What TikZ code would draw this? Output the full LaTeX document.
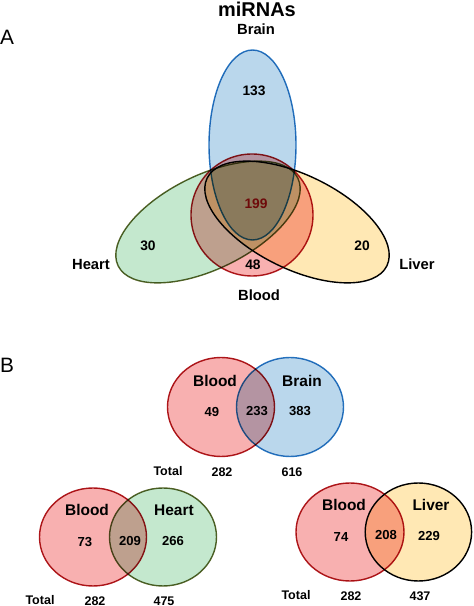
\documentclass[tikz,border=0pt]{standalone}
\usepackage{fontspec}
\setmainfont{Liberation Sans}

\definecolor{bloodfill}{RGB}{248,176,176}
\definecolor{bloodline}{RGB}{175,25,30}
\definecolor{brainfill}{RGB}{186,215,236}
\definecolor{brainline}{RGB}{40,120,195}
\definecolor{heartfill}{RGB}{196,232,206}
\definecolor{heartline}{RGB}{85,100,40}
\definecolor{liverfill}{RGB}{255,232,180}
\definecolor{liverline}{RGB}{0,0,0}
\definecolor{coretext}{RGB}{110,10,10}

\begin{document}
\begin{tikzpicture}[
		setline/.style={line width=1pt},
		countA/.style={font=\fontsize{9.8}{11}\selectfont\bfseries},
		nameA/.style={font=\fontsize{10.5}{12}\selectfont\bfseries},
		countB/.style={font=\fontsize{9.3}{11}\selectfont\bfseries},
		nameB/.style={font=\fontsize{11}{13}\selectfont\bfseries},
		totalB/.style={font=\fontsize{8.9}{11}\selectfont\bfseries},
		panel/.style={font=\fontsize{14.8}{17}\selectfont}
	]
		\useasboundingbox (0,0) rectangle (11.825,15.15);

		% A: four sets
		\node[font=\fontsize{14.2}{17}\selectfont\bfseries] (title) at (6.425,14.925) {miRNAs};
		\node[panel] (panelA) at (0.175,14.225) {A};

		\begin{scope}[blend group=multiply]
			\draw[setline, fill=heartfill, draw=heartline, rotate around={26:(5.2,9.6)}] (5.2,9.6) ellipse (2.5 and 1.175);
			\draw[setline, fill=liverfill, draw=liverline, rotate around={-26:(7.425,9.6)}] (7.425,9.6) ellipse (2.5 and 1.175);
			\draw[setline, fill=brainfill, draw=brainline] (6.3125,11.525) ellipse (1.0875 and 2.375);
			\draw[setline, fill=bloodfill, draw=bloodline] (6.3,9.775) circle (1.525);
		\end{scope}

		\node[nameA] (brainA) at (6.4,14.425) {Brain};
		\node[nameA] (heartA) at (2.275,8.55) {Heart};
		\node[nameA] (liverA) at (10.425,8.55) {Liver};
		\node[nameA] (bloodA) at (6.475,7.775) {Blood};

		\node[countA] (brainonly) at (6.35,12.875) {133};
		\node[countA, text=coretext] (core) at (6.4,10.05) {199};
		\node[countA] (heartonly) at (3.7,9.0) {30};
		\node[countA] (liveronly) at (9.05,9.0) {20};
		\node[countA] (bloodonly) at (6.325,8.525) {48};

		% B: blood against each tissue
		\node[panel] (panelB) at (0.175,6.025) {B};

		\begin{scope}[blend group=multiply]
			\draw[setline, fill=bloodfill, draw=bloodline] (5.525,4.975) ellipse (1.3375 and 1.2375);
			\draw[setline, fill=brainfill, draw=brainline] (7.25,4.975) ellipse (1.3375 and 1.2375);
		\end{scope}
		\node[nameB] (bloodB1) at (5.375,5.625) {Blood};
		\node[nameB] (brainB) at (7.55,5.625) {Brain};
		\node[countB] (b49) at (5.3,4.85) {49};
		\node[countB] (b233) at (6.425,4.875) {233};
		\node[countB] (b383) at (7.5,4.875) {383};
		\node[totalB] (total1) at (4.2,3.375) {Total};
		\node[totalB] (t282a) at (5.55,3.35) {282};
		\node[totalB] (t616) at (7.3,3.35) {616};

		\begin{scope}[blend group=multiply]
			\draw[setline, fill=bloodfill, draw=bloodline] (2.325,1.725) ellipse (1.3375 and 1.225);
			\draw[setline, fill=heartfill, draw=heartline] (4.075,1.725) ellipse (1.3375 and 1.225);
		\end{scope}
		\node[nameB] (bloodB2) at (2.175,2.4) {Blood};
		\node[nameB] (heartB) at (4.35,2.4) {Heart};
		\node[countB] (b73) at (2.125,1.6) {73};
		\node[countB] (b209) at (3.25,1.625) {209};
		\node[countB] (b266) at (4.325,1.625) {266};
		\node[totalB] (total2) at (1.0,0.15) {Total};
		\node[totalB] (t282b) at (2.375,0.125) {282};
		\node[totalB] (t475) at (4.1,0.125) {475};

		\begin{scope}[blend group=multiply]
			\draw[setline, fill=bloodfill, draw=bloodline] (8.75,1.85) ellipse (1.35 and 1.225);
			\draw[setline, fill=liverfill, draw=liverline] (10.46,1.85) ellipse (1.33 and 1.225);
		\end{scope}
		\node[nameB] (bloodB3) at (8.6,2.525) {Blood};
		\node[nameB] (liverB) at (10.775,2.525) {Liver};
		\node[countB] (b74) at (8.525,1.725) {74};
		\node[countB] (b208) at (9.65,1.775) {208};
		\node[countB] (b229) at (10.725,1.75) {229};
		\node[totalB] (total3) at (7.4,0.275) {Total};
		\node[totalB] (t282c) at (8.775,0.25) {282};
		\node[totalB] (t437) at (10.5,0.25) {437};
	\end{tikzpicture}
\end{document}
